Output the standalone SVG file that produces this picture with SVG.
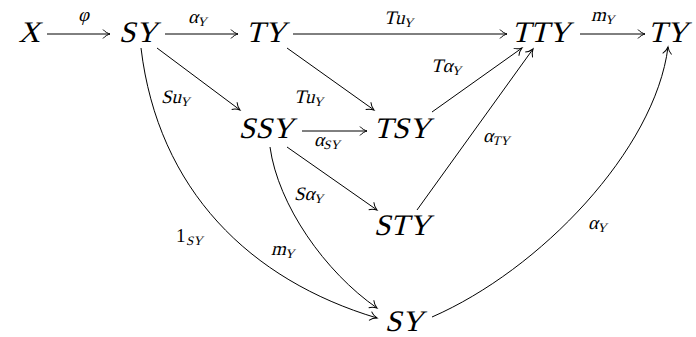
<svg xmlns="http://www.w3.org/2000/svg" width="696" height="337" viewBox="0 0 696 337">
<style>
.n{font-family:'Liberation Serif',serif;font-size:30px;text-anchor:middle}
.l{font-family:'Liberation Serif',serif;font-size:19px}
.s{font-size:13px}
.c{fill:none;stroke:#000;stroke-width:1;marker-end:url(#ah)}
</style>
<defs>
<marker id="ah" markerUnits="userSpaceOnUse" markerWidth="12" markerHeight="12" viewBox="-8 -6 10 12" refX="0" refY="0" orient="auto">
<path d="M-7,-4.5 C-5,-2 -2,-0.6 0,0 C-2,0.6 -5,2 -7,4.5" fill="none" stroke="#000" stroke-width="1"/>
</marker>
</defs>
<g id="connectors">
<path class="c" d="M47,34 H110"/>
<path class="c" d="M165,34 H238"/>
<path class="c" d="M293,34 H507"/>
<path class="c" d="M580,34 H645"/>
<path class="c" d="M157,48 L240,110"/>
<path class="c" d="M287,48 L374,110"/>
<path class="c" d="M432,112 L522,48"/>
<path class="c" d="M417,210 L533,49"/>
<path class="c" d="M302,131 H367"/>
<path class="c" d="M287,147 L377,210"/>
<path class="c" d="M270,147 C278,205 325,272 377,308"/>
<path class="c" d="M141,48 C158,190 250,280 377,318"/>
<path class="c" d="M432,317 C540,270 655,150 668,47"/>
<g transform="translate(78 21) skewX(-14)"><text class="l" x="0" y="0">φ</text></g>
<g transform="translate(188 23) skewX(-14)"><text class="l" x="0" y="0">α<tspan class="s" dy="3">Y</tspan></text></g>
<g transform="translate(384 24) skewX(-14)"><text class="l" x="0" y="0">Tu<tspan class="s" dy="3">Y</tspan></text></g>
<g transform="translate(591 21) skewX(-14)"><text class="l" x="0" y="0">m<tspan class="s" dy="3">Y</tspan></text></g>
<g transform="translate(161 103) skewX(-14)"><text class="l" x="0" y="0">Su<tspan class="s" dy="3">Y</tspan></text></g>
<g transform="translate(294 103) skewX(-14)"><text class="l" x="0" y="0">Tu<tspan class="s" dy="3">Y</tspan></text></g>
<g transform="translate(431 72) skewX(-14)"><text class="l" x="0" y="0">Tα<tspan class="s" dy="3">Y</tspan></text></g>
<g transform="translate(314 146) skewX(-14)"><text class="l" x="0" y="0">α<tspan class="s" dy="3">SY</tspan></text></g>
<g transform="translate(294 200) skewX(-14)"><text class="l" x="0" y="0">Sα<tspan class="s" dy="3">Y</tspan></text></g>
<text class="l" x="176" y="242">1</text>
<g transform="translate(186 245) skewX(-14)"><text class="l s" x="0" y="0">SY</text></g>
<g transform="translate(271 255) skewX(-14)"><text class="l" x="0" y="0">m<tspan class="s" dy="3">Y</tspan></text></g>
<g transform="translate(483 142) skewX(-14)"><text class="l" x="0" y="0">α<tspan class="s" dy="3">TY</tspan></text></g>
<g transform="translate(588 229) skewX(-14)"><text class="l" x="0" y="0">α<tspan class="s" dy="3">Y</tspan></text></g>
</g>
<g id="X" transform="translate(29 42) skewX(-14)"><text class="n" x="0" y="0">X</text></g>
<g id="SY" transform="translate(138 42) skewX(-14)"><text class="n" x="0" y="0">SY</text></g>
<g id="TY" transform="translate(266 42) skewX(-14)"><text class="n" x="0" y="0">TY</text></g>
<g id="TTY" transform="translate(541 42) skewX(-14)"><text class="n" x="0" y="0">TTY</text></g>
<g id="TY2" transform="translate(668 42) skewX(-14)"><text class="n" x="0" y="0">TY</text></g>
<g id="SSY" transform="translate(266 138) skewX(-14)"><text class="n" x="0" y="0">SSY</text></g>
<g id="TSY" transform="translate(402 138) skewX(-14)"><text class="n" x="0" y="0">TSY</text></g>
<g id="STY" transform="translate(402 235) skewX(-14)"><text class="n" x="0" y="0">STY</text></g>
<g id="SY2" transform="translate(404 331) skewX(-14)"><text class="n" x="0" y="0">SY</text></g>
</svg>
